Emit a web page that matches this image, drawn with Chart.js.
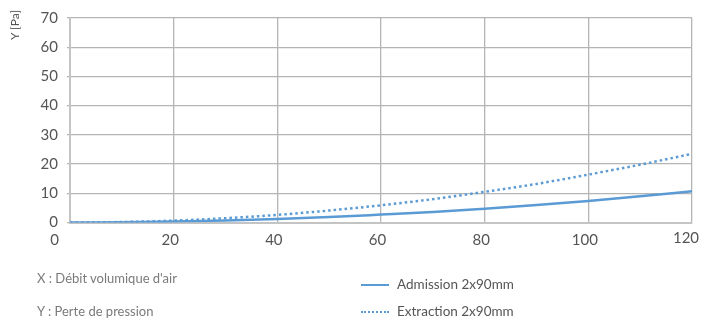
<!DOCTYPE html>
<html>
<head>
<meta charset="utf-8">
<script src="https://cdn.jsdelivr.net/npm/chart.js@4.4.1/dist/chart.umd.min.js"></script>
<style>
  html,body{margin:0;padding:0;background:#fff;}
  #wrap{position:relative;width:716px;height:320px;font-family:Lato,"Open Sans",sans-serif;color:#6f6f6f;}
  canvas{position:absolute;left:0;top:0;}
  .note{position:absolute;left:37px;font-size:13px;color:#7a7a7a;white-space:nowrap;line-height:16px;}
  .ytitle{position:absolute;left:8px;top:17px;font-size:12px;color:#555;transform:rotate(-90deg);transform-origin:left top;white-space:nowrap;line-height:14px;top:40px;}
  .leg{position:absolute;left:361px;font-size:13.5px;color:#555;white-space:nowrap;line-height:16px;}
  .leg span.s{display:inline-block;width:28px;height:0;vertical-align:middle;margin-right:8px;position:relative;top:-1px;}
</style>
</head>
<body>
<div id="wrap">
  <canvas id="c" width="716" height="320"></canvas>
  <div class="ytitle">Y [Pa]</div>
  <div class="note" style="top:270px;">X : Débit volumique d'air</div>
  <div class="note" style="top:303px;">Y : Perte de pression</div>
  <div class="leg" style="top:276px;"><span class="s" style="border-top:2.5px solid #5b9bd5;"></span>Admission 2x90mm</div>
  <div class="leg" style="top:303px;"><span class="s" style="border-top:2.5px dotted #5b9bd5;"></span>Extraction 2x90mm</div>
</div>
<script>
const xValues = [0,10,20,30,40,50,60,70,80,90,100,110,120];
const admission = [0,0.07,0.3,0.67,1.2,1.85,2.7,3.6,4.7,6.0,7.4,9.0,10.7];
const extraction = [0,0.16,0.65,1.47,2.6,4.1,5.9,8.0,10.5,13.2,16.4,19.8,23.5];
const xTicks = [0,20,40,60,80,100,120];
const yTicks = [0,10,20,30,40,50,60,70];
const seriesNames = ["Admission 2x90mm","Extraction 2x90mm"];

const toPts = arr => arr.map((v,i)=>({x:xValues[i], y:v}));
const blue = '#5b9bd5';
const gridColor = '#b5b5b5';

const xLabelPlugin = {
  id:'xLabels',
  afterDraw(chart){
    const ctx = chart.ctx, sx = chart.scales.x, top = chart.chartArea.bottom;
    ctx.save();
    ctx.font = '15px Lato, "Open Sans", sans-serif';
    ctx.fillStyle = '#555';
    ctx.textBaseline = 'middle';
    xTicks.forEach((v,i)=>{
      const px = sx.getPixelForValue(v);
      if(i===0){ ctx.textAlign='right'; ctx.fillText(String(v), px-11, top+18); }
      else if(i===xTicks.length-1){ ctx.textAlign='center'; ctx.fillText(String(v), px-6, top+16); }
      else { ctx.textAlign='center'; ctx.fillText(String(v), px-3.5, top+18); }
    });
    ctx.restore();
  }
};

new Chart(document.getElementById('c'), {
  type:'scatter',
  data:{
    datasets:[
      {label:seriesNames[0], data:toPts(admission), showLine:true, borderColor:blue, borderWidth:2.5, pointRadius:0, tension:0.4, cubicInterpolationMode:'monotone'},
      {label:seriesNames[1], data:toPts(extraction), showLine:true, borderColor:blue, borderWidth:2.5, borderDash:[2.5,3], pointRadius:0, cubicInterpolationMode:'monotone'}
    ]
  },
  options:{
    responsive:false, animation:false, devicePixelRatio:1,
    layout:{padding:{top:14, right:24, left:0, bottom:0}},
    plugins:{legend:{display:false}, tooltip:{enabled:false}},
    scales:{
      x:{
        type:'linear', min:0, max:120,
        afterBuildTicks(s){ s.ticks = xTicks.map(v=>({value:v})); },
        afterFit(s){ s.height = 97.5; },
        ticks:{display:false},
        grid:{color:gridColor, lineWidth:1.3, drawTicks:false},
        border:{display:true, color:'#c4c4c4', width:2}
      },
      y:{
        min:0, max:70,
        afterBuildTicks(s){ s.ticks = yTicks.map(v=>({value:v})); },
        afterFit(s){ s.width = 70; },
        ticks:{font:{family:'Lato, "Open Sans", sans-serif', size:15}, color:'#555', padding:9},
        grid:{color:gridColor, lineWidth:1.3, tickLength:3},
        border:{display:true, color:'#c4c4c4', width:2}
      }
    }
  },
  plugins:[xLabelPlugin]
});
</script>
</body>
</html>
